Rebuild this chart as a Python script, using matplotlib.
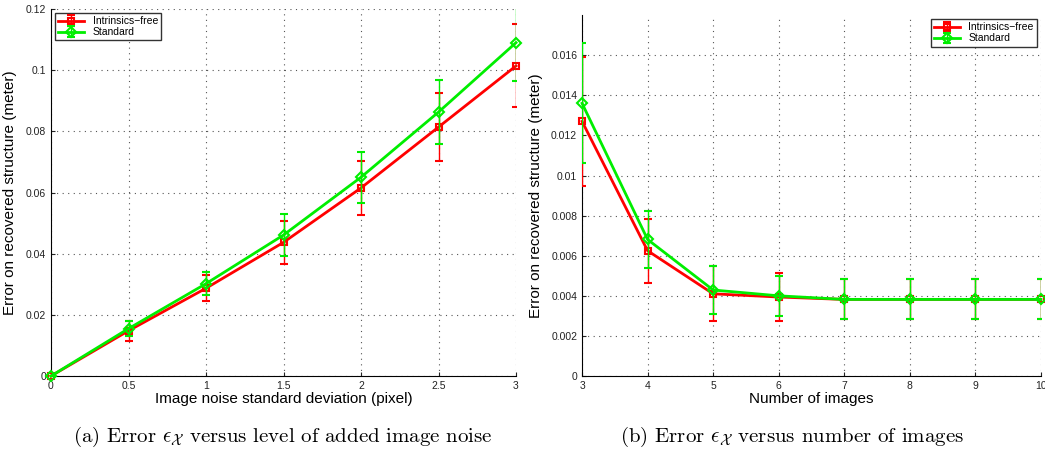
import numpy as np
import matplotlib
matplotlib.use("Agg")
import matplotlib.pyplot as plt

plt.rcParams['font.family'] = 'Liberation Sans'
plt.rcParams['mathtext.fontset'] = 'cm'
plt.rcParams['xtick.direction'] = 'in'
plt.rcParams['ytick.direction'] = 'in'

### (a) noise level
noise = [0, 0.5, 1, 1.5, 2, 2.5, 3]
free_a = [0, 0.0148, 0.0287, 0.0437, 0.0615, 0.0814, 0.1014]
free_a_err = [0, 0.0032, 0.0042, 0.0071, 0.0088, 0.0112, 0.0136]
std_a = [0, 0.0155, 0.0302, 0.0461, 0.0650, 0.0863, 0.1090]
std_a_err = [0, 0.0025, 0.0038, 0.0068, 0.0084, 0.0106, 0.0126]

### (b) number of images
n_images = [3, 4, 5, 6, 7, 8, 9, 10]
free_b = [0.0127, 0.00625, 0.0041, 0.00394, 0.00382, 0.00382, 0.00382, 0.00382]
free_b_err = [0.0032, 0.0016, 0.00138, 0.0012, 0.001, 0.001, 0.001, 0.001]
std_b = [0.0136, 0.00681, 0.00429, 0.0040, 0.00382, 0.00382, 0.00382, 0.00382]
std_b_err = [0.0030, 0.0014, 0.0012, 0.0010, 0.001, 0.001, 0.001, 0.001]

labels = ['Intrinsics\u2212free', 'Standard']
red = '#ff0000'
green = '#00ee00'

fig = plt.figure(figsize=(10.45, 4.5), dpi=100)
ax1 = fig.add_axes([0.0488, 0.1644, 0.445, 0.8156])
ax2 = fig.add_axes([0.557, 0.1644, 0.439, 0.802])


def draw(ax, x, y1, e1, y2, e2):
    for y, e, c, m, lab, z in [(y1, e1, red, 's', labels[0], 3),
                               (y2, e2, green, 'D', labels[1], 4)]:
        line, caps, bars = ax.errorbar(x, y, yerr=e, color=c, ecolor=c,
                                       elinewidth=1.0, capsize=3.2, capthick=1.0,
                                       lw=2, marker=m, ms=5, mfc='none', mew=1.5,
                                       label=lab, zorder=z)
        line.set_clip_on(False)
    ax.grid(True, linestyle=(0, (1, 4)), color='#555555', linewidth=0.8)
    ax.spines['top'].set_visible(False)
    ax.spines['right'].set_visible(False)
    ax.tick_params(labelsize=7.5, colors='#222222', length=3)
    ax.set_ylabel('Error on recovered structure (meter)', fontsize=11, labelpad=6)


draw(ax1, noise, free_a, free_a_err, std_a, std_a_err)
ax1.set_xlim(0, 3)
ax1.set_ylim(0, 0.12)
ax1.set_xticks([0, 0.5, 1, 1.5, 2, 2.5, 3])
ax1.set_xticklabels(['0', '0.5', '1', '1.5', '2', '2.5', '3'])
ax1.set_yticks([0, 0.02, 0.04, 0.06, 0.08, 0.1, 0.12])
ax1.set_yticklabels(['0', '0.02', '0.04', '0.06', '0.08', '0.1', '0.12'])
ax1.set_xlabel('Image noise standard deviation (pixel)', fontsize=11, labelpad=1)
ax1.legend(loc='upper left', fontsize=7.5, frameon=True, fancybox=False,
           edgecolor='black', borderpad=0.3, handlelength=2.5,
           labelspacing=0.1, borderaxespad=0.4).get_frame().set_linewidth(1.0)

draw(ax2, n_images, free_b, free_b_err, std_b, std_b_err)
ax2.set_xlim(3, 10)
ax2.set_ylim(0, 0.018)
ax2.set_xticks(n_images)
ax2.set_yticks([0, 0.002, 0.004, 0.006, 0.008, 0.01, 0.012, 0.014, 0.016])
ax2.set_yticklabels(['0', '0.002', '0.004', '0.006', '0.008', '0.01',
                     '0.012', '0.014', '0.016'])
ax2.set_xlabel('Number of images', fontsize=11, labelpad=1)
ax2.legend(loc='upper right', fontsize=7.5, frameon=True, fancybox=False,
           edgecolor='black', borderpad=0.3, handlelength=2.5,
           labelspacing=0.1, borderaxespad=0.4).get_frame().set_linewidth(1.0)

fig.text(0.271, 0.03, r'(a) Error $\epsilon_{\mathcal{X}}$ versus level of added image noise',
         family='cmr10', fontsize=15, ha='center', va='center')
fig.text(0.758, 0.03, r'(b) Error $\epsilon_{\mathcal{X}}$ versus number of images',
         family='cmr10', fontsize=15, ha='center', va='center')

plt.savefig('out.png', dpi=100)
